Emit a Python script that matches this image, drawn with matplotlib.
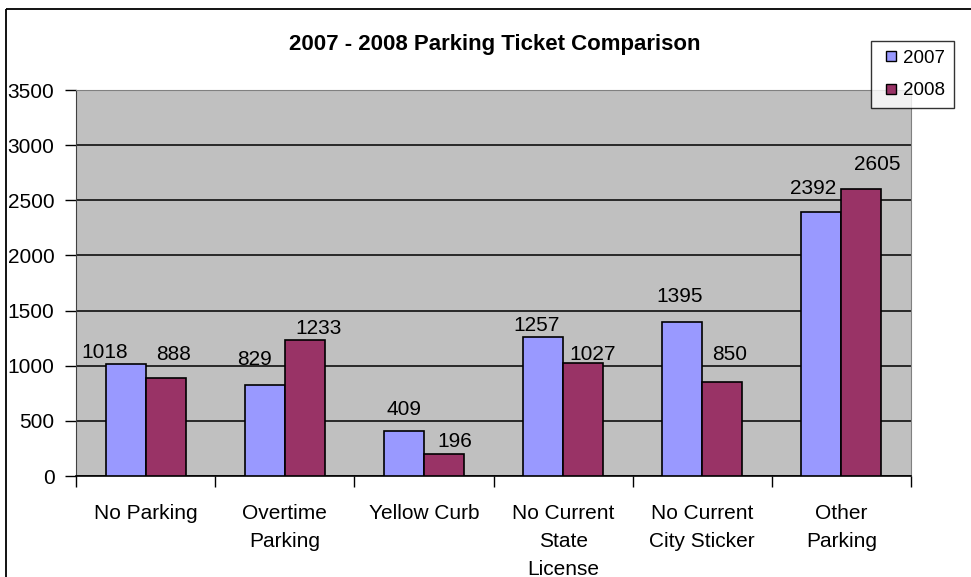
import matplotlib
matplotlib.use("Agg")
import matplotlib.pyplot as plt
from matplotlib.patches import Rectangle
from matplotlib.lines import Line2D
import numpy as np

plt.rcParams['font.family'] = ['Liberation Sans', 'DejaVu Sans']

# data
categories = ["No Parking", "Overtime\nParking", "Yellow Curb",
              "No Current\nState\nLicense", "No Current\nCity Sticker", "Other\nParking"]
vals_2007 = [1018, 829, 409, 1257, 1395, 2392]
vals_2008 = [888, 1233, 196, 1027, 850, 2605]
years = ["2007", "2008"]
yticks = [0, 500, 1000, 1500, 2000, 2500, 3000, 3500]

# label nudges (pixels) to mimic Excel's placement
dx07 = [-21, -10, 0, -6, -3, -8]
dy07 = [6, 20, 16, 6, 20, 18]
dx08 = [8, 14, 11, 10, 7, 16]
dy08 = [18, 6, 7, 3, 22, 19]

c07 = '#9999FF'
c08 = '#993366'

W, H = 971, 577
fig = plt.figure(figsize=(W / 100, H / 100), dpi=100)
# outer chart border (right/bottom are cropped off in the original)
fig.patches.append(Rectangle((6 / W, 1 - 9 / H), 2, -2, transform=fig.transFigure,
                             fill=False, ec='black', lw=1.3))

ax = fig.add_axes([76 / W, (H - 476) / H, (911 - 76) / W, (476 - 90) / H])
ax.set_facecolor('#C0C0C0')

x = np.arange(len(categories)) + 0.5
bw = 40 / 139
b1 = ax.bar(x - bw / 2, vals_2007, bw, color=c07, ec='black', lw=1.2, zorder=3)
b2 = ax.bar(x + bw / 2, vals_2008, bw, color=c08, ec='black', lw=1.2, zorder=3)

for bars, dxs, dys in ((b1, dx07, dy07), (b2, dx08, dy08)):
    for r, dx, dy in zip(bars, dxs, dys):
        ax.annotate(str(int(r.get_height())), (r.get_x() + r.get_width() / 2, r.get_height()),
                    xytext=(dx, dy), textcoords='offset pixels', ha='center', va='baseline',
                    fontsize=15, zorder=4, annotation_clip=False)

ax.set_xlim(0, len(categories))
ax.set_ylim(0, 3500)
ax.set_yticks(yticks)
ax.set_yticklabels([str(v) for v in yticks], fontsize=15)
ax.yaxis.grid(True, color='black', lw=1.1, zorder=0)
ax.set_axisbelow(True)

ax.set_xticks(np.arange(len(categories) + 1))
ax.set_xticklabels([])
ax.set_xticks(x, minor=True)
ax.set_xticklabels(categories, minor=True, fontsize=15, linespacing=1.6)
ax.tick_params(axis='x', which='major', length=8, width=1, direction='out')
ax.tick_params(axis='x', which='minor', length=0, pad=20)
ax.tick_params(axis='y', length=8, width=1, direction='out', pad=7.5)

for s in ('top', 'right'):
    ax.spines[s].set_color('#808080')
ax.spines['left'].set_color('#404040')
ax.spines['bottom'].set_color('black')
ax.spines['bottom'].set_linewidth(1.2)

fig.text(495 / W, 1 - 50 / H, "2007 - 2008 Parking Ticket Comparison", ha='center', va='baseline',
         fontsize=16, fontweight='bold')

handles = [Line2D([], [], ls='none', marker='s', markersize=7.9, mfc=c, mec='black', mew=1)
           for c in (c07, c08)]
leg = fig.legend(handles, years, loc='upper left', bbox_to_anchor=(871 / W, 1 - 41 / H),
                 fontsize=13.5, frameon=True, fancybox=False, edgecolor='black',
                 handlelength=1.2, handletextpad=0.05,
                 borderpad=0.46, labelspacing=0.82, borderaxespad=0)
leg.get_frame().set_linewidth(1)

fig.savefig('out.png', dpi=100)
